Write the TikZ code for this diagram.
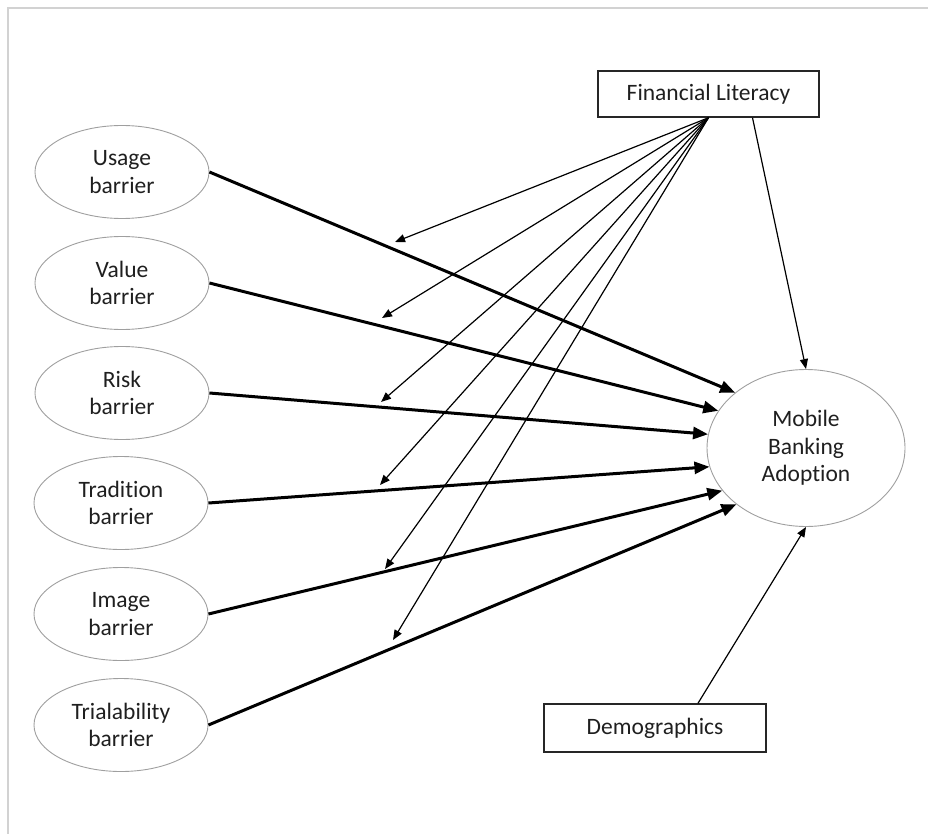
\documentclass[tikz,border=0pt]{standalone}
\usepackage{fontspec}
\setmainfont{Carlito}[Ligatures=NoCommon]
\usetikzlibrary{shapes.geometric,arrows.meta,calc}
\begin{document}
\begin{tikzpicture}[x=1pt,y=-1pt,
  lbl/.style={font=\fontsize{23.5}{27.5}\selectfont,text=black!88},
  barrier/.style={lbl,ellipse,draw=gray!75,line width=0.9pt,minimum width=174pt,minimum height=93pt,inner sep=0pt,align=center},
  box/.style={lbl,rectangle,draw=black!85,line width=1.5pt,align=center,inner sep=0pt},
  mainarrow/.style={-{Triangle[length=15pt,width=12pt]},line width=3pt},
  modarrow/.style={-{Triangle[length=10pt,width=8pt]},line width=1.2pt}]
\useasboundingbox (0,0) rectangle (928,834);
\draw[gray!35,line width=1.5pt] (8,834) -- (8,8) -- (928,8);

\node[barrier] (usage) at (122,172) {Usage\\barrier};
\node[barrier] (value) at (122,283) {Value\\barrier};
\node[barrier] (risk)  at (122,393) {Risk\\barrier};
\node[barrier] (trad)  at (121,503) {Tradition\\barrier};
\node[barrier] (image) at (121,614) {Image\\barrier};
\node[barrier] (trial) at (121,725) {Trialability\\barrier};

\node[box,minimum width=221pt,minimum height=46pt] (fl) at (708.5,94) {Financial Literacy};
\node[box,minimum width=222pt,minimum height=48pt] (dem) at (655,728) {Demographics};
\node[lbl,ellipse,draw=gray!75,line width=0.9pt,minimum width=198pt,minimum height=157pt,inner sep=0pt,align=center] (mob) at (806,448) {Mobile\\Banking\\Adoption};

\draw[mainarrow] (usage.east) -- (mob.142);
\draw[mainarrow] (value.east) -- (mob.157);
\draw[mainarrow] (risk.east)  -- (mob.172);
\draw[mainarrow] (trad.east)  -- (mob.191);
\draw[mainarrow] (image.east) -- (mob.207);
\draw[mainarrow] (trial.east) -- (mob.219);

\coordinate (m1) at (395,242);
\coordinate (m2) at (382,318);
\coordinate (m3) at (381,402);
\coordinate (m4) at (380,485);
\coordinate (m5) at (385,569);
\coordinate (m6) at (393,640);
\foreach \m in {m1,m2,m3,m4,m5,m6}
  \draw[modarrow] (fl.south) -- (\m);
\draw[modarrow] ([xshift=44pt]fl.south) -- (mob.north);
\draw[modarrow] ([xshift=43pt]dem.north) -- (mob.south);
\end{tikzpicture}
\end{document}
